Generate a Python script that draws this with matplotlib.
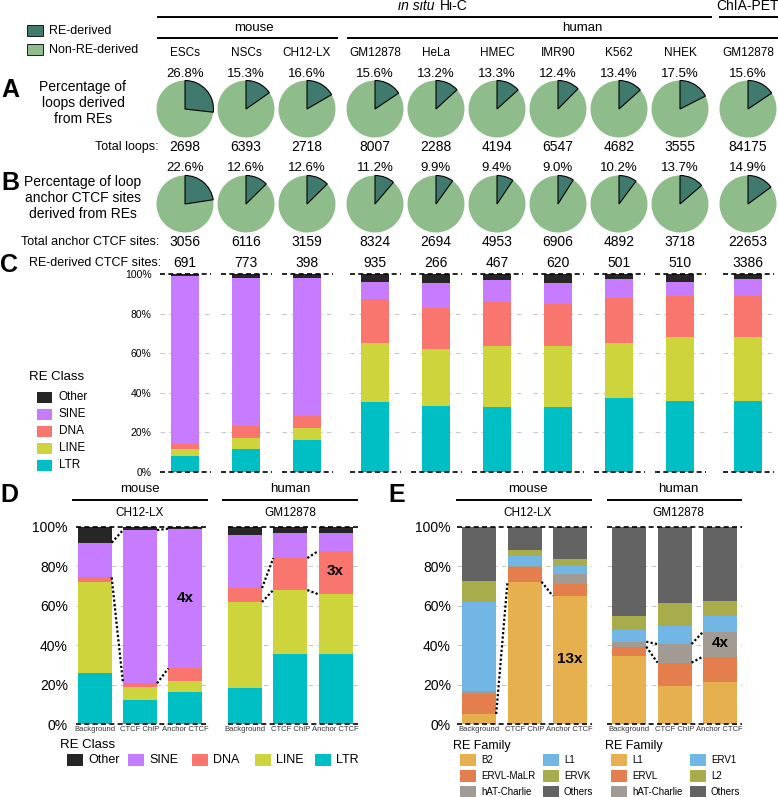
import matplotlib
matplotlib.use('Agg')
import matplotlib.pyplot as plt
from matplotlib.patches import Rectangle
import numpy as np

plt.rcParams['font.family'] = ['Liberation Sans', 'DejaVu Sans']

W, H = 778, 797
fig = plt.figure(figsize=(W / 100, H / 100), dpi=100)

# ---------------- data ----------------
cell_lines = ['ESCs', 'NSCs', 'CH12-LX', 'GM12878', 'HeLa', 'HMEC', 'IMR90', 'K562', 'NHEK', 'GM12878']
col_group = [0, 0, 0, 1, 1, 1, 1, 1, 1, 2]
pct_loops = [26.8, 15.3, 16.6, 15.6, 13.2, 13.3, 12.4, 13.4, 17.5, 15.6]
total_loops = [2698, 6393, 2718, 8007, 2288, 4194, 6547, 4682, 3555, 84175]
pct_anchor = [22.6, 12.6, 12.6, 11.2, 9.9, 9.4, 9.0, 10.2, 13.7, 14.9]
total_anchor = [3056, 6116, 3159, 8324, 2694, 4953, 6906, 4892, 3718, 22653]
re_ctcf_sites = [691, 773, 398, 935, 266, 467, 620, 501, 510, 3386]

re_classes = ['LTR', 'LINE', 'DNA', 'SINE', 'Other']
c_ltr = [8.2, 11.8, 16.3, 35.3, 33.4, 32.8, 32.8, 37.5, 36.1, 35.8]
c_line = [3.4, 5.5, 5.7, 30.1, 28.6, 30.9, 30.9, 27.9, 32.0, 32.4]
c_dna = [2.5, 5.7, 6.4, 21.8, 21.0, 22.2, 21.2, 22.7, 20.8, 20.7]
c_sine = [84.9, 75.2, 69.8, 8.9, 12.3, 10.9, 10.4, 9.2, 7.2, 8.4]
c_other = [1.0, 1.8, 1.8, 3.9, 4.7, 3.2, 4.7, 2.7, 3.9, 2.7]

sample_types = ['Background', 'CTCF ChIP', 'Anchor CTCF']
d_mouse_ltr = [25.7, 12.2, 16.2]
d_mouse_line = [46.1, 6.7, 5.8]
d_mouse_dna = [2.5, 1.7, 6.2]
d_mouse_sine = [17.6, 77.7, 70.8]
d_mouse_other = [8.1, 1.7, 1.0]
d_human_ltr = [18.1, 35.5, 35.5]
d_human_line = [43.7, 32.4, 30.2]
d_human_dna = [7.1, 16.2, 22.1]
d_human_sine = [27.0, 12.9, 9.2]
d_human_other = [4.1, 3.0, 3.0]

mouse_families = ['B2', 'ERVL-MaLR', 'hAT-Charlie', 'L1', 'ERVK', 'Others']
e_mouse_b2 = [5.1, 72.1, 64.9]
e_mouse_ervl_malr = [10.8, 7.6, 6.0]
e_mouse_hat = [1.0, 0.3, 4.9]
e_mouse_l1 = [44.8, 5.3, 4.4]
e_mouse_ervk = [10.9, 2.9, 3.4]
e_mouse_others = [27.4, 11.8, 16.4]
human_families = ['L1', 'ERVL', 'hAT-Charlie', 'ERV1', 'L2', 'Others']
e_human_l1 = [34.6, 19.3, 21.1]
e_human_ervl = [4.6, 11.8, 13.0]
e_human_hat = [2.5, 9.4, 12.5]
e_human_erv1 = [5.9, 9.3, 8.0]
e_human_l2 = [7.3, 11.7, 7.6]
e_human_others = [45.1, 38.5, 37.8]

# ---------------- styles ----------------
COL_RE, COL_NON = '#407A6E', '#8FBC8B'
class_colors = ['#00BFC4', '#CDD43C', '#F8766D', '#C77CFF', '#262626']
fam_colors = ['#E6B04E', '#E47F4D', '#A19B93', '#71B6E4', '#A8AC4A', '#636363']
GRID = '#C8C8C8'


def px_axes(x0, y0, x1, y1):
    return fig.add_axes([x0 / W, 1 - y1 / H, (x1 - x0) / W, (y1 - y0) / H])


ov = fig.add_axes([0, 0, 1, 1])
ov.set_xlim(0, W)
ov.set_ylim(H, 0)
ov.axis('off')


def txt(x, y, s, size=9, ha='center', va='center', **kw):
    ov.text(x, y, s, fontsize=size, ha=ha, va=va, **kw)


def hline(x0, x1, y, lw=1.4):
    ov.plot([x0, x1], [y, y], color='black', lw=lw, solid_capstyle='butt')


# column positions (pixels)
col_x = [185 + 61 * i + 7 * g for i, g in enumerate(col_group)]

# ---------------- header ----------------
txt(435, 6, 'in situ', 10, ha='right', style='italic')
txt(440, 6, 'Hi-C', 10, ha='left')
hline(157, 712, 17)
txt(748, 6, 'ChIA-PET', 10)
hline(719, 778, 17)
txt(254, 28, 'mouse', 9.5)
hline(157, 338, 38)
txt(582, 28, 'human', 9.5)
hline(347, 778, 38)
for x, name in zip(col_x, cell_lines):
    txt(x, 53, name, 8.5)

# legend for pies
ov.add_patch(Rectangle((27, 25), 16, 11, facecolor=COL_RE, edgecolor='black', lw=0.6))
txt(49, 30.5, 'RE-derived', 9, ha='left')
ov.add_patch(Rectangle((27, 44), 16, 11, facecolor=COL_NON, edgecolor='black', lw=0.6))
txt(49, 49.5, 'Non-RE-derived', 9, ha='left')

# ---------------- A & B pies ----------------
txt(1, 90, 'A', 18, ha='left', fontweight='bold')
txt(83, 103, 'Percentage of\nloops derived\nfrom REs', 10, linespacing=1.15)
txt(1, 183, 'B', 18, ha='left', fontweight='bold')
txt(83, 198, 'Percentage of loop\nanchor CTCF sites\nderived from REs', 10, linespacing=1.15)
txt(159, 147, 'Total loops:', 9, ha='right')
txt(159, 242, 'Total anchor CTCF sites:', 9, ha='right')

R = 28.5
for cy, pcts, tots, ty, ny in [(109, pct_loops, total_loops, 74, 147),
                               (204, pct_anchor, total_anchor, 168, 242)]:
    for x, p, t in zip(col_x, pcts, tots):
        ax = px_axes(x - 31, cy - 31, x + 31, cy + 31)
        wedges, _ = ax.pie([p, 100 - p], colors=[COL_RE, COL_NON], startangle=90,
                           counterclock=False, radius=1)
        wedges[0].set_edgecolor('black')
        wedges[0].set_linewidth(0.8)
        wedges[0].set_zorder(3)
        ax.set_xlim(-31 / R, 31 / R)
        ax.set_ylim(-31 / R, 31 / R)
        ax.axis('off')
        txt(x, ty, f'{p:.1f}%', 9.5)
        txt(x, ny, f'{t}', 10)

# ---------------- C ----------------
txt(0, 265, 'C', 18, ha='left', fontweight='bold')
txt(161, 263, 'RE-derived CTCF sites:', 9, ha='right')
for x, n in zip(col_x, re_ctcf_sites):
    txt(x, 263, f'{n}', 10)

axc = px_axes(160, 274, 772, 472)
axc.set_xlim(160, 772)
axc.set_ylim(0, 100)
c_data = [c_ltr, c_line, c_dna, c_sine, c_other]
bottom = np.zeros(len(col_x))
for vals, col in zip(c_data, class_colors):
    axc.bar(col_x, vals, 28, bottom=bottom, color=col, linewidth=0, zorder=2)
    bottom += np.array(vals)
xs = np.array(col_x)
for yv in [20, 40, 60, 80]:
    axc.hlines([yv] * len(xs), xs - 25.5, xs + 25.5, colors=GRID, lw=0.8,
               linestyles=(0, (4, 4)), zorder=1)
for yv in [0, 100]:
    axc.hlines([yv] * len(xs), xs - 25.5, xs + 25.5, colors='black', lw=1.2,
               linestyles=(0, (3, 2)), zorder=3, clip_on=False)
axc.set_yticks([0, 20, 40, 60, 80, 100])
axc.set_yticklabels([f'{v}%' for v in [0, 20, 40, 60, 80, 100]])
axc.tick_params(axis='y', length=0, pad=6, labelsize=7.5)
axc.set_xticks([])
for s in axc.spines.values():
    s.set_visible(False)
axc.patch.set_alpha(0)

# C legend
txt(29, 377, 'RE Class', 9.5, ha='left')
for k, (name, col) in enumerate(zip(re_classes[::-1], class_colors[::-1])):
    yc = 397 + 17 * k
    ov.add_patch(Rectangle((37, yc - 5.5), 15, 11, facecolor=col, edgecolor='none'))
    txt(59, yc, name, 8.5, ha='left')

# ---------------- D & E ----------------
SP = 45.3
BW = 34 / SP


def group_axes(x_first, lo, hi):
    ax = px_axes(x_first + lo * SP, 526.7, x_first + hi * SP, 724)
    ax.set_xlim(lo, hi)
    ax.set_ylim(0, 100)
    for s in ax.spines.values():
        s.set_visible(False)
    ax.patch.set_alpha(0)
    for yv in [20, 40, 60, 80]:
        ax.axhline(yv, color=GRID, lw=0.8, ls=(0, (4, 4)), zorder=1)
    for yv in [0, 100]:
        ax.axhline(yv, color='black', lw=1.2, ls=(0, (3, 2)), zorder=3, clip_on=False)
    ax.set_xticks(range(3))
    ax.set_xticklabels(sample_types, fontsize=5.5, color='#333333')
    ax.tick_params(axis='x', length=0, pad=1.5)
    return ax


def stacked(ax, data, colors):
    x = np.arange(len(data[0]))
    bottom = np.zeros(len(x))
    for vals, col in zip(data, colors):
        ax.bar(x, vals, BW, bottom=bottom, color=col, linewidth=0, zorder=2)
        bottom += np.array(vals)


def connectors(ax, data, idx):
    arr = np.array(data, dtype=float)
    cum = np.cumsum(arr, axis=0)
    hi = cum[idx]
    lo = hi - arr[idx]
    for edge in (lo, hi):
        for j in range(arr.shape[1] - 1):
            if edge[j] == 0 and edge[j + 1] == 0:
                continue
            ax.plot([j + BW / 2, j + 1 - BW / 2], [edge[j], edge[j + 1]],
                    color='black', lw=1.6, ls=(0, (1, 1)), zorder=4)


def yticks(ax, pad):
    ax.set_yticks([0, 20, 40, 60, 80, 100])
    ax.set_yticklabels([f'{v}%' for v in [0, 20, 40, 60, 80, 100]])
    ax.tick_params(axis='y', length=0, pad=pad, labelsize=10)


def group_header(xc, x0, x1, species, line):
    txt(xc, 489, species, 9.5)
    hline(x0, x1, 500)
    txt(xc, 513, line, 8.5)


# D
txt(0, 495, 'D', 18, ha='left', fontweight='bold')
d_mouse = [d_mouse_ltr, d_mouse_line, d_mouse_dna, d_mouse_sine, d_mouse_other]
d_human = [d_human_ltr, d_human_line, d_human_dna, d_human_sine, d_human_other]
axd1 = group_axes(94.7, -0.41, 2.5)
stacked(axd1, d_mouse, class_colors)
connectors(axd1, d_mouse, 3)
yticks(axd1, 6)
axd1.text(2, 64, '4x', fontsize=11, fontweight='bold', ha='center', va='center', zorder=5)
axd2 = group_axes(245, -0.38, 2.5)
stacked(axd2, d_human, class_colors)
connectors(axd2, d_human, 2)
axd2.set_yticks([])
axd2.text(2, 77.7, '3x', fontsize=11, fontweight='bold', ha='center', va='center', zorder=5)
group_header(140, 72, 208, 'mouse', 'CH12-LX')
group_header(290, 222, 358, 'human', 'GM12878')

txt(60, 745, 'RE Class', 9.5, ha='left')
for name, col, sx in zip(re_classes[::-1], class_colors[::-1], [67, 128, 192, 255, 315]):
    ov.add_patch(Rectangle((sx, 754), 16, 12, facecolor=col, edgecolor='none'))
    txt(sx + 21, 760, name, 9, ha='left')

# E
txt(388, 495, 'E', 18, ha='left', fontweight='bold')
e_mouse = [e_mouse_b2, e_mouse_ervl_malr, e_mouse_hat, e_mouse_l1, e_mouse_ervk, e_mouse_others]
e_human = [e_human_l1, e_human_ervl, e_human_hat, e_human_erv1, e_human_l2, e_human_others]
axe1 = group_axes(479.2, -0.5, 2.48)
stacked(axe1, e_mouse, fam_colors)
connectors(axe1, e_mouse, 0)
yticks(axe1, 4)
axe1.text(2, 33, '13x', fontsize=11, fontweight='bold', ha='center', va='center', zorder=5)
axe2 = group_axes(629.2, -0.5, 2.5)
stacked(axe2, e_human, fam_colors)
connectors(axe2, e_human, 2)
axe2.set_yticks([])
axe2.text(2, 41, '4x', fontsize=11, fontweight='bold', ha='center', va='center', zorder=5)
group_header(528, 456, 592, 'mouse', 'CH12-LX')
group_header(678, 607, 742, 'human', 'GM12878')


def fam_legend(x_title, sq1, sq2, names):
    txt(x_title, 746, 'RE Family', 9, ha='left')
    for k, (name, col) in enumerate(zip(names, fam_colors)):
        c, r = divmod(k, 3)
        sx = sq1 if c == 0 else sq2
        yc = 760 + 16 * r
        ov.add_patch(Rectangle((sx, yc - 6), 16, 12, facecolor=col, edgecolor='none'))
        txt(sx + 21, yc, name, 7, ha='left')


fam_legend(453, 460, 543, mouse_families)
fam_legend(605, 611, 690, human_families)

fig.savefig('out.png', dpi=100)
